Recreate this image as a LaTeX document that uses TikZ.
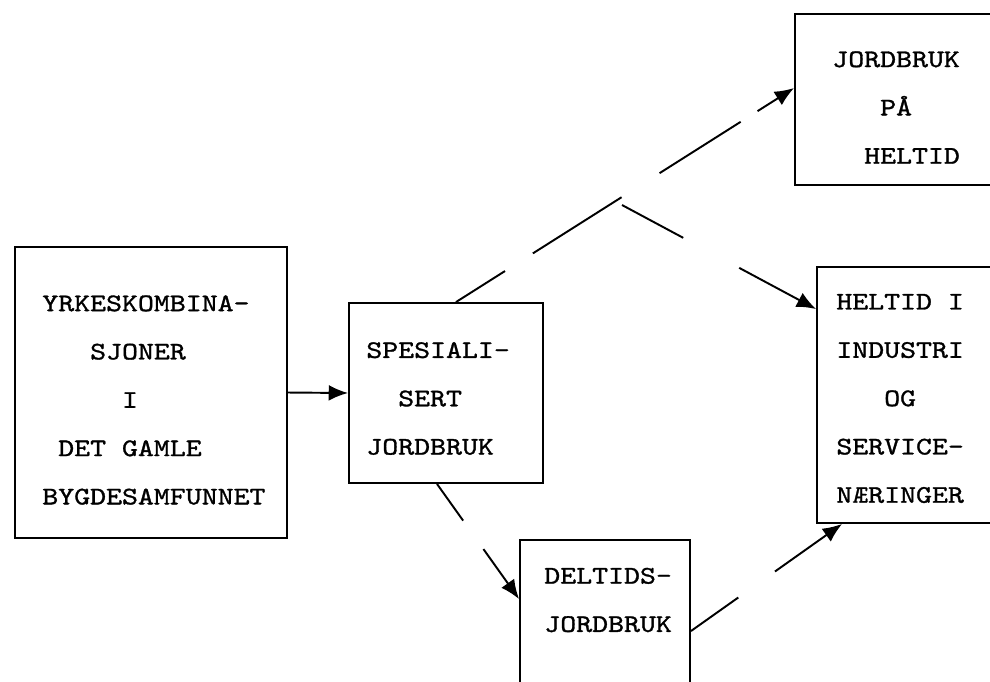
\documentclass[tikz,border=0pt]{standalone}
\usepackage{fontspec}
\setmonofont{lmmono10-regular.otf}[FakeStretch=1.2, FakeBold=1.2]
\usetikzlibrary{arrows.meta}

\begin{document}
\begin{tikzpicture}[x=0.02cm, y=-0.02cm,
    box/.style={draw, line width=1.1pt, inner sep=0pt},
    lbl/.style={anchor=west, align=left, inner sep=0pt, font=\ttfamily\fontsize{14.4}{27.5}\selectfont},
    flow/.style={->, line width=1.1pt},
    >={Latex[length=11pt, width=9pt]}]
%      \draw [help lines] (0,0) grid [xstep=50, ystep=50] (990,681);
      \clip (0,0) rectangle (990,681);

      \node [box, minimum width=5.44cm, minimum height=5.82cm] (yrke) at (151,392.5) {};
      \node [box, minimum width=3.88cm, minimum height=3.6cm] (spes) at (446,393) {};
      \node [box, minimum width=3.4cm, minimum height=4cm] (deltid) at (605,640) {};
      \node [box, minimum width=4.3cm, minimum height=3.42cm] (fullgard) at (902.5,99.5) {};
      \node [box, minimum width=3.86cm, minimum height=5.12cm] (industri) at (913.5,395) {};

      \node [lbl] (yrketxt) at (42,400) {YRKESKOMBINA-\\\phantom{XXX}SJONER\\\phantom{XXXXX}I\\\phantom{X}DET GAMLE\\BYGDESAMFUNNET};
      \node [lbl] (spestxt) at (366,398.5) {SPESIALI-\\\phantom{XX}SERT\\JORDBRUK};
      \node [lbl] (deltidtxt) at (544,600) {DELTIDS-\\JORDBRUK};
      \node [lbl] (fullgardtxt) at (832,107.5) {JORDBRUK\\\phantom{XXX}PÅ\\\phantom{XX}HELTID};
      \node [lbl] (industritxt) at (836,398.5) {HELTID I\\INDUSTRI\\\phantom{XXX}OG\\SERVICE-\\NÆRINGER};

      \coordinate (fork) at (622,205);

      \draw [flow] (yrke.east) -- (spes.west);
      \draw [flow, dash pattern=on 1.16cm off 0.66cm on 2.1cm off 0.9cm on 1.92cm off 0.4cm on 6cm] ([xshift=0.2cm]spes.north) -- ([yshift=0.23cm]fullgard.west);
      \draw [flow, dash pattern=on 1.39cm off 1.27cm on 6cm] (fork) -- ([yshift=-0.86cm]industri.north west);
      \draw [flow, dash pattern=on 0.9cm off 0.7cm on 5cm] ([xshift=-0.18cm]spes.south) -- ([yshift=-1.2cm]deltid.north west);
      \draw [flow, dash pattern=on 1.16cm off 0.9cm on 5cm] ([yshift=-1.84cm]deltid.north east) -- ([xshift=0.52cm]industri.south west);
\end{tikzpicture}
\end{document}
